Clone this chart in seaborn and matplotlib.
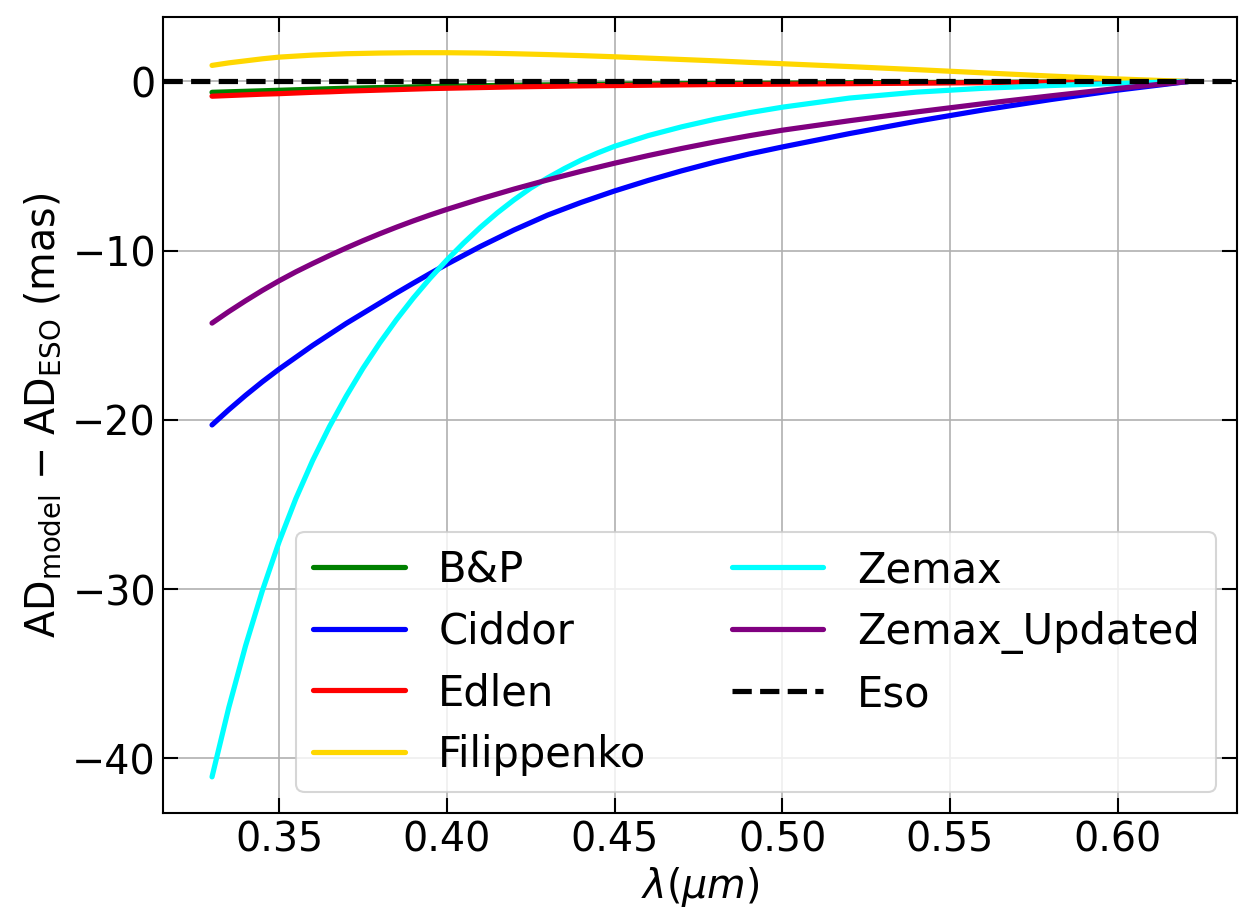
import pandas as pd
import seaborn as sns
import matplotlib.pyplot as plt

# AD_model - AD_ESO (mas) against wavelength (micron)
wavelength = [0.33, 0.335, 0.34, 0.345, 0.35, 0.355, 0.36, 0.365, 0.37, 0.375,
              0.38, 0.385, 0.39, 0.395, 0.40, 0.41, 0.42, 0.43, 0.44, 0.45,
              0.46, 0.47, 0.48, 0.49, 0.50, 0.52, 0.54, 0.56, 0.58, 0.60, 0.621]

bp = [-0.64, -0.61, -0.58, -0.55, -0.52, -0.49, -0.46, -0.43, -0.40, -0.38,
      -0.36, -0.34, -0.32, -0.30, -0.28, -0.25, -0.22, -0.20, -0.18, -0.16,
      -0.14, -0.13, -0.12, -0.11, -0.10, -0.08, -0.06, -0.05, -0.03, -0.02, 0.0]

ciddor = [-20.3, -19.4, -18.55, -17.75, -17.0, -16.3, -15.6, -14.95, -14.3, -13.7,
          -13.1, -12.5, -11.92, -11.35, -10.8, -9.75, -8.78, -7.9, -7.15, -6.47,
          -5.85, -5.28, -4.76, -4.29, -3.87, -3.08, -2.35, -1.68, -1.07, -0.51, 0.0]

edlen = [-0.87, -0.83, -0.79, -0.75, -0.72, -0.68, -0.64, -0.61, -0.57, -0.54,
         -0.51, -0.48, -0.45, -0.42, -0.40, -0.36, -0.32, -0.29, -0.26, -0.24,
         -0.22, -0.20, -0.18, -0.17, -0.16, -0.13, -0.10, -0.07, -0.05, -0.03, 0.0]

filippenko = [0.95, 1.10, 1.22, 1.34, 1.44, 1.50, 1.56, 1.60, 1.64, 1.66,
              1.68, 1.69, 1.70, 1.70, 1.70, 1.68, 1.64, 1.59, 1.53, 1.46,
              1.38, 1.30, 1.22, 1.13, 1.05, 0.88, 0.70, 0.51, 0.32, 0.15, 0.0]

zemax_updated = [-14.28, -13.6, -12.96, -12.35, -11.78, -11.25, -10.76, -10.29, -9.84, -9.41,
                 -9.0, -8.61, -8.24, -7.89, -7.56, -6.94, -6.36, -5.82, -5.31, -4.83,
                 -4.38, -3.96, -3.57, -3.21, -2.88, -2.32, -1.8, -1.31, -0.85, -0.41, 0.0]

# Zemax bends hard at short wavelengths, so it was read on a finer grid
wavelength_zemax = [0.33, 0.335, 0.34, 0.345, 0.35, 0.355, 0.36, 0.365, 0.37, 0.375,
                    0.38, 0.385, 0.39, 0.395, 0.40, 0.405, 0.41, 0.415, 0.42, 0.425,
                    0.43, 0.435, 0.44, 0.445, 0.45, 0.46, 0.47, 0.48, 0.49, 0.50,
                    0.52, 0.54, 0.56, 0.58, 0.60, 0.621]
zemax = [-41.1, -37.0, -33.35, -30.1, -27.2, -24.65, -22.4, -20.4, -18.6, -16.95,
         -15.45, -14.07, -12.8, -11.63, -10.55, -9.55, -8.62, -7.77, -7.0, -6.3,
         -5.7, -5.15, -4.65, -4.22, -3.83, -3.2, -2.68, -2.23, -1.85, -1.52,
         -0.98, -0.63, -0.4, -0.24, -0.11, 0.0]

models = ['B&P', 'Ciddor', 'Edlen', 'Filippenko', 'Zemax', 'Zemax_Updated']
colors = ['green', 'blue', 'red', 'gold', 'cyan', 'purple']
series = [(wavelength, bp), (wavelength, ciddor), (wavelength, edlen),
          (wavelength, filippenko), (wavelength_zemax, zemax),
          (wavelength, zemax_updated)]

frames = []
for name, (wl, vals) in zip(models, series):
    frames.append(pd.DataFrame({'wl': wl, 'diff': vals, 'model': name}))
df = pd.concat(frames, ignore_index=True)

sns.set_theme(style="ticks", rc={'axes.edgecolor': 'black',
                                 'xtick.color': 'black', 'ytick.color': 'black',
                                 'text.color': 'black', 'axes.labelcolor': 'black'})
plt.rcParams['font.family'] = ['DejaVu Sans']
plt.rcParams['mathtext.fontset'] = 'dejavusans'

fs = 19
fig, ax = plt.subplots(figsize=(8.37, 6.13), dpi=150)
fig.subplots_adjust(left=0.130, right=0.9853, top=0.9815, bottom=0.1152)

sns.lineplot(data=df, x='wl', y='diff', hue='model', hue_order=models,
             palette=dict(zip(models, colors)), linewidth=2.5, sort=False, ax=ax)
ax.axhline(0, color='black', linestyle='--', linewidth=2.5, label='Eso')

ax.grid(True, color='#b0b0b0', linewidth=0.8)
ax.set_axisbelow(True)
ax.tick_params(direction='in', top=True, right=True, length=7, width=1,
               labelsize=fs)
for sp in ax.spines.values():
    sp.set_color('black')
    sp.set_linewidth(1)

ax.set_xlabel(r'$\lambda (\mu m)$', fontsize=fs, labelpad=2)
ax.set_ylabel(r'AD$_{\rm model}$ $-$ AD$_{\rm ESO}$ (mas)', fontsize=fs)

ax.legend(loc='lower right', ncol=2, fontsize=20, handlelength=2.2,
          columnspacing=2.05, labelspacing=0.47)

fig.savefig('out.png', dpi=150)
